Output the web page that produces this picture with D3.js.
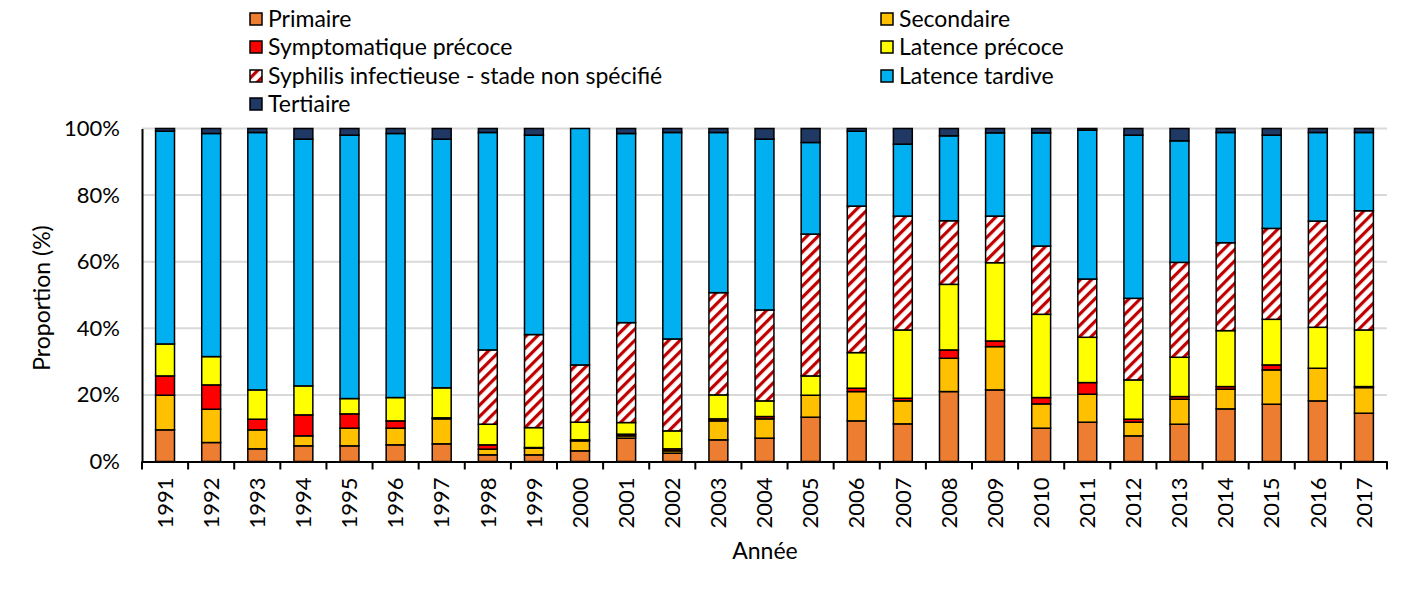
<!DOCTYPE html>
<html><head><meta charset="utf-8">
<script src="https://cdn.jsdelivr.net/npm/d3@7"></script>
<style>
body{margin:0;background:#fff;}
text{font-family:Lato,"Open Sans",sans-serif;fill:#000;}
</style></head>
<body><svg id="c" width="1410" height="602"></svg>
<script>
const years = [1991,1992,1993,1994,1995,1996,1997,1998,1999,2000,2001,2002,2003,2004,2005,2006,2007,2008,2009,2010,2011,2012,2013,2014,2015,2016,2017];
const primaire =      [9.5,5.7,3.8,4.7,4.7,5.0,5.3,2.0,2.0,3.2,7.0,2.5,6.5,7.0,13.3,12.2,11.3,21.0,21.5,10.0,11.8,7.7,11.2,15.8,17.2,18.2,14.5];
const secondaire =    [10.4,10.0,5.7,3.0,5.3,5.0,7.5,1.7,2.0,3.0,0.7,0.7,5.7,5.8,6.6,8.8,6.9,10.0,13.0,7.3,8.4,4.1,7.5,5.9,10.3,9.8,7.7];
const sympPrecoce =   [5.8,7.3,3.2,6.3,4.3,2.2,0.3,1.3,0.2,0.3,0.5,0.6,0.6,0.7,0,1.0,0.8,2.5,1.7,1.9,3.5,0.9,0.8,0.8,1.5,0,0.3];
const latPrecoce =    [9.6,8.5,8.8,8.7,4.6,7.0,9.0,6.2,6.0,5.3,3.5,5.4,7.2,4.7,5.8,10.7,20.5,19.7,23.5,25.0,13.6,11.8,11.8,16.8,13.7,12.3,17.0];
const nonSpecifie =   [0,0,0,0,0,0,0,22.3,28.0,17.2,30.0,27.6,30.7,27.3,42.6,44.0,34.2,19.1,14.0,20.5,17.5,24.5,28.5,26.4,27.3,31.9,35.8];
const latTardive =    [63.9,67.0,77.3,74.1,79.1,79.3,74.6,65.3,60.0,71.0,56.8,62.0,48.1,51.3,27.5,22.5,21.6,25.5,25.0,34.0,44.7,49.0,36.5,33.1,28.0,26.6,23.5];
const tertiaire =     [0.8,1.5,1.2,3.2,2.0,1.5,3.2,1.2,2.0,0,1.5,1.2,1.2,3.2,4.2,0.8,4.7,2.2,1.3,1.3,0.5,2.0,3.7,1.2,2.0,1.2,1.2];
const seriesNames = ["Primaire","Secondaire","Symptomatique précoce","Latence précoce","Syphilis infectieuse - stade non spécifié","Latence tardive","Tertiaire"];
const yTicks = [0,0.2,0.4,0.6,0.8,1.0];

const seriesData = [primaire,secondaire,sympPrecoce,latPrecoce,nonSpecifie,latTardive,tertiaire];
const colors = ["#ED7D31","#FFC000","#FF0000","#FFFF00","url(#hatch)","#00B0F0","#203864"];

const rows = years.map((y,i)=>{const r={year:y};let tot=0;seriesData.forEach(s=>tot+=s[i]);seriesNames.forEach((n,k)=>r[n]=seriesData[k][i]/tot);return r;});
const stacked = d3.stack().keys(seriesNames)(rows);

const svg = d3.select("#c");
const defs = svg.append("defs");
const pat = defs.append("pattern").attr("id","hatch").attr("patternUnits","userSpaceOnUse").attr("width",8).attr("height",8).attr("patternTransform","rotate(45)");
pat.append("rect").attr("width",8).attr("height",8).attr("fill","#fff");
pat.append("rect").attr("x",0).attr("width",3.2).attr("height",8).attr("fill","#C00000");

const x0=142, x1=1387, yTop=128.5, yBot=461.5;
const x = d3.scaleBand().domain(years).range([x0,x1]).paddingInner(0.59).paddingOuter(0.295);
const y = d3.scaleLinear().domain([0,1]).range([yBot,yTop]);

// gridlines
svg.append("g").selectAll("line").data(yTicks.filter(t=>t>0)).join("line")
  .attr("x1",x0).attr("x2",x1).attr("y1",d=>y(d)).attr("y2",d=>y(d))
  .attr("stroke","#D9D9D9").attr("stroke-width",2);

// bars
svg.append("g").selectAll("g").data(stacked).join("g")
  .attr("fill",(d,i)=>colors[i])
  .selectAll("rect").data(d=>d.filter(p=>p[1]-p[0]>0)).join("rect")
  .attr("x",d=>x(d.data.year)).attr("width",x.bandwidth())
  .attr("y",d=>y(d[1])).attr("height",d=>y(d[0])-y(d[1]))
  .attr("stroke","#000").attr("stroke-width",1.5);

// y axis
const yAxis = d3.axisLeft(y).tickValues(yTicks).tickFormat(d3.format(".0%")).tickSize(0).tickPadding(22);
const gy = svg.append("g").attr("transform",`translate(${x0},0)`).call(yAxis);
gy.select(".domain").attr("stroke","#000").attr("stroke-width",2);
gy.selectAll("text").style("font-size","22px").style("font-family","Lato");

// x axis
const xAxis = d3.axisBottom(x).tickSize(0).tickPadding(14);
const gx = svg.append("g").attr("transform",`translate(0,${yBot})`).call(xAxis);
gx.select(".domain").attr("stroke","#000").attr("stroke-width",2);
gx.selectAll("text").style("font-size","22px").style("font-family","Lato")
  .attr("transform","rotate(-90)").attr("text-anchor","end").attr("x",-16).attr("y",0).attr("dy","0.35em");
// category boundary ticks
const bounds = years.map(yv=>x(yv)-x.step()*x.paddingInner()/2);
bounds.push(x1);
gx.append("g").selectAll("line").data(bounds).join("line")
  .attr("x1",d=>d).attr("x2",d=>d).attr("y1",0).attr("y2",8).attr("stroke","#000").attr("stroke-width",2);

// axis titles
svg.append("text").attr("transform","translate(50,298) rotate(-90)").attr("text-anchor","middle")
  .style("font-size","23px").text("Proportion (%)");
svg.append("text").attr("x",765).attr("y",559).attr("text-anchor","middle").style("font-size","23px").text("Année");

// legend
const legPos = [[250,19],[881,19],[250,47],[881,47],[250,76],[881,76],[250,104]];
const lg = svg.append("g").selectAll("g").data(seriesNames).join("g")
  .attr("transform",(d,i)=>`translate(${legPos[i][0]},${legPos[i][1]})`);
lg.append("rect").attr("x",0).attr("y",-6).attr("width",12).attr("height",12)
  .attr("fill",(d,i)=>colors[i]).attr("stroke","#000").attr("stroke-width",1.5);
lg.append("text").attr("x",18).attr("y",0).attr("dy","0.35em").style("font-size","23px").text(d=>d);
</script></body></html>
